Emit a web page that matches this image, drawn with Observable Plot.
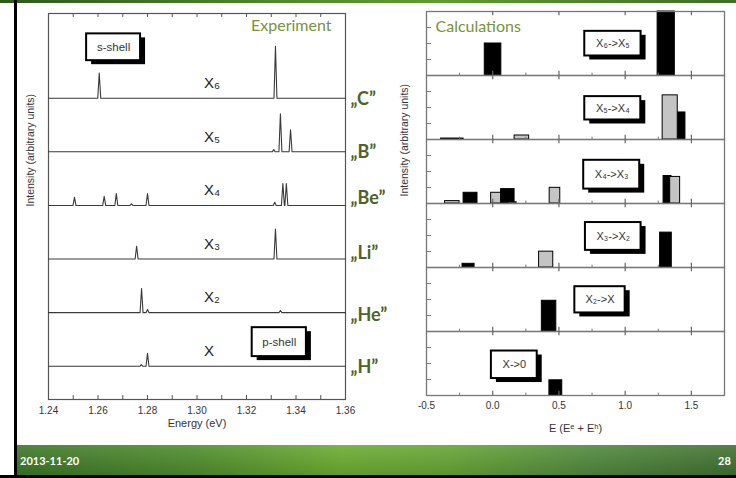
<!DOCTYPE html>
<html>
<head>
<meta charset="utf-8">
<script src="https://cdn.jsdelivr.net/npm/d3@7"></script>
<script src="https://cdn.jsdelivr.net/npm/@observablehq/plot@0.6"></script>
<style>
  body { margin: 0; background: #fff; }
  #slide { position: relative; width: 736px; height: 478px; background: #fff; overflow: hidden; font-family: "Liberation Sans", Arial, sans-serif; }
  #topbar { position: absolute; left: 0; top: 0; width: 736px; height: 3px; background: linear-gradient(90deg, #2c5a1a, #4f8c28 40%, #5e9c2c 60%, #3c6e24); }
  #leftline { position: absolute; left: 14px; top: 0; width: 3px; height: 478px; background: #000; }
  #footer { position: absolute; left: 17px; top: 445px; width: 719px; height: 30px;
    background: linear-gradient(180deg, rgba(255,255,255,0.12), rgba(0,0,0,0.08)), linear-gradient(90deg, #3a7324 0%, #4c8a2a 25%, #69a92d 45%, #63a232 60%, #4d863a 80%, #3e6e2e 100%); }
  #bottomline { position: absolute; left: 0; top: 475px; width: 736px; height: 3px; background: #000; }
  .foot { position: absolute; top: 454px; color: #fff; font-family: Lato, "Open Sans", sans-serif; font-weight: bold; font-size: 11px; }
  #leftplot { position: absolute; left: 0; top: 0; }
  #rightplot { position: absolute; left: 380px; top: 0; }
</style>
</head>
<body>
<div id="slide">
  <div id="topbar"></div>
  <div id="footer"></div>
  <div id="leftline"></div>
  <div id="bottomline"></div>
  <div class="foot" style="left:20px">2013-11-20</div>
  <div class="foot" style="left:718px">28</div>
  <div id="leftplot"></div>
  <div id="rightplot"></div>
</div>
<script>
// ---------------- Experiment (left) ----------------
const traceNames = ["X", "X2", "X3", "X4", "X5", "X6"];          // bottom to top
const traceLabels = ["X", "X₂", "X₃", "X₄", "X₅", "X₆"];
const elementLabels = ["„H”", "„He”", "„Li”", "„Be”", "„B”", "„C”"];

const peakTrace  = ["X6", "X6",
                    "X5", "X5", "X5",
                    "X4", "X4", "X4", "X4", "X4", "X4", "X4", "X4",
                    "X3", "X3",
                    "X2", "X2", "X2",
                    "X", "X"];
const peakEnergy = [1.2605, 1.3317,
                    1.3310, 1.3337, 1.3378,
                    1.2505, 1.2625, 1.2674, 1.2735, 1.2800, 1.3314, 1.3347, 1.3361,
                    1.2756, 1.3317,
                    1.2776, 1.2800, 1.3337,
                    1.2775, 1.2800];
const peakHeight = [0.47, 0.97,
                    0.04, 0.71, 0.41,
                    0.15, 0.17, 0.22, 0.03, 0.22, 0.06, 0.41, 0.41,
                    0.24, 0.56,
                    0.45, 0.06, 0.04,
                    0.03, 0.24];

const energyTicks = [1.24, 1.25, 1.26, 1.27, 1.28, 1.29, 1.30, 1.31, 1.32, 1.33, 1.34, 1.35, 1.36];
const energyLabelTicks = [1.24, 1.26, 1.28, 1.30, 1.32, 1.34, 1.36];
const energyTickLabels = ["1.24", "1.26", "1.28", "1.30", "1.32", "1.34", "1.36"];

const shellLabels = ["s-shell", "p-shell"];

// ---------------- Calculations (right) ----------------
const panels = ["X6->X5", "X5->X4", "X4->X3", "X3->X2", "X2->X", "X->0"];
const panelLabels = ["X₆->X₅", "X₅->X₄", "X₄->X₃", "X₃->X₂", "X₂->X", "X->0"];

const barPanel = ["X6->X5", "X6->X5",
                  "X5->X4", "X5->X4", "X5->X4", "X5->X4",
                  "X4->X3", "X4->X3", "X4->X3", "X4->X3", "X4->X3", "X4->X3", "X4->X3", "X4->X3",
                  "X3->X2", "X3->X2", "X3->X2",
                  "X2->X",
                  "X->0"];
const barStart = [-0.06, 1.245,
                  -0.39, 0.165, 1.35, 1.283,
                  -0.36, -0.22, -0.012, 0.063, 0.12, 0.43, 1.29, 1.34,
                  -0.228, 0.35, 1.264,
                  0.371,
                  0.428];
const barEnd   = [0.065, 1.375,
                  -0.22, 0.275, 1.455, 1.397,
                  -0.25, -0.115, 0.063, 0.165, 0.18, 0.51, 1.35, 1.415,
                  -0.137, 0.457, 1.352,
                  0.48,
                  0.525];
const barHeight = [2.0, 4.0,
                   0.06, 0.25, 1.69, 2.76,
                   0.15, 0.67, 0.67, 0.9, 0.08, 0.98, 1.72, 1.66,
                   0.23, 0.99, 2.18,
                   1.92,
                   0.95];
const barKind = ["dark", "dark",
                 "dark", "light", "dark", "light",
                 "light", "dark", "light", "dark", "light", "light", "dark", "light",
                 "dark", "light", "dark",
                 "dark",
                 "dark"];

const calcTicks = [-0.5, 0.0, 0.5, 1.0, 1.5];
const calcTickLabels = ["-0.5", "0.0", "0.5", "1.0", "1.5"];
const calcMajor = [0.0, 0.5, 1.0, 1.5];
const calcMinor = [-0.25, 0.25, 0.75, 1.25];
const calcYTicks = [1, 2, 3];

// ---------------- annotation anchors (data units) ----------------
const baseOffset = 0.62;       // lowest baseline, in trace-spacing units
const halfWidth = 0.0006;      // half base width of a drawn line
const traceLabelEnergy = 1.3028;
const traceLabelLift = 0.28;
const elementLabelY = [0.6, 1.57, 2.72, 3.75, 4.61, 5.6];
const shellBox = {x1: [1.2554, 1.3223], x2: [1.2772, 1.3442], y1: [6.32, 0.80], y2: [6.82, 1.34]};
const calcBox = {x1: [0.695, 0.695, 0.687, 0.70, 0.62, -0.01],
                 x2: [1.12, 1.118, 1.11, 1.12, 1.0, 0.336],
                 y1: [1.22, 1.22, 0.9, 1.07, 1.16, 1.06],
                 y2: [2.76, 2.68, 2.7, 2.81, 2.8, 2.78]};

// ---------- build left traces ----------
const traceRows = [];
traceNames.forEach((name, i) => {
  const base = baseOffset + i;
  const pk = peakEnergy.map((e, j) => ({e, h: peakHeight[j], t: peakTrace[j]}))
    .filter(p => p.t === name).sort((a, b) => a.e - b.e);
  traceRows.push({trace: name, e: energyTicks[0], y: base});
  pk.forEach(p => {
    traceRows.push({trace: name, e: p.e - halfWidth, y: base});
    traceRows.push({trace: name, e: p.e, y: base + p.h});
    traceRows.push({trace: name, e: p.e + halfWidth, y: base});
  });
  traceRows.push({trace: name, e: energyTicks[energyTicks.length - 1], y: base});
});
const traceLabelRows = traceNames.map((n, i) => ({text: traceLabels[i], y: baseOffset + i + traceLabelLift}));
const elementRows = traceNames.map((n, i) => ({text: elementLabels[i], y: elementLabelY[i]}));
const shellRows = shellLabels.map((t, i) => ({text: t, x1: shellBox.x1[i], x2: shellBox.x2[i], y1: shellBox.y1[i], y2: shellBox.y2[i]}));

const LH = 445, LMT = 13, LMB = 46;
const leftFrameH = LH - LMT - LMB;
const axisFont = "Liberation Sans, Arial, sans-serif";
const slideFont = "Lato, 'Open Sans', sans-serif";

const left = Plot.plot({
  width: 380, height: LH,
  marginLeft: 48, marginRight: 35, marginTop: LMT, marginBottom: LMB,
  x: {domain: [1.24, 1.36]},
  y: {domain: [0, 7.2], axis: null},
  style: {fontFamily: axisFont, fontSize: "10px", color: "#333", background: "transparent", overflow: "visible"},
  marks: [
    Plot.frame({stroke: "#555", strokeWidth: 1.2}),
    Plot.tickX(energyTicks, {x: d => d, insetTop: leftFrameH - 4, stroke: "#555"}),
    Plot.tickX(energyTicks, {x: d => d, insetBottom: leftFrameH - 4, stroke: "#555"}),
    Plot.line(traceRows, {x: "e", y: "y", z: "trace", stroke: "#3a3a3a", strokeWidth: 1.1}),
    Plot.axisX(energyLabelTicks, {tickSize: 0, tickPadding: 7, tickFormat: d => energyTickLabels[energyLabelTicks.indexOf(d)], label: null, fontSize: 10}),
    Plot.text(["Energy (eV)"], {frameAnchor: "bottom", dy: 27, fontSize: 11, fill: "#333"}),
    Plot.text(["Intensity (arbitrary units)"], {frameAnchor: "left", rotate: -90, dx: -18, fontSize: 10.5, fill: "#333"}),
    Plot.text(traceLabelRows, {x: traceLabelEnergy, y: "y", text: "text", textAnchor: "start", fontSize: 15, fill: "#222"}),
    Plot.text(elementRows, {x: 1.36, y: "y", text: "text", textAnchor: "start", dx: 5, fontSize: 18, fontWeight: "bold", fill: "#4f6228", fontFamily: slideFont}),
    Plot.text(["Experiment"], {frameAnchor: "top-right", dx: -14, dy: 6, fontSize: 16, fill: "#77933c", fontFamily: slideFont}),
    Plot.rect(shellRows, {x1: "x1", x2: "x2", y1: "y1", y2: "y2", fill: "#000", dx: 5, dy: 4}),
    Plot.rect(shellRows, {x1: "x1", x2: "x2", y1: "y1", y2: "y2", fill: "#fff", stroke: "#000", strokeWidth: 2}),
    Plot.text(shellRows, {x: d => (d.x1 + d.x2) / 2, y: d => (d.y1 + d.y2) / 2, text: "text", fontSize: 11.5, fill: "#333"})
  ]
});
document.getElementById("leftplot").append(left);

// ---------- right ----------
const bars = barPanel.map((p, i) => ({panel: p, x1: barStart[i], x2: barEnd[i], h: barHeight[i], kind: barKind[i]}));
const boxRows = panels.map((p, i) => ({panel: p, text: panelLabels[i], x1: calcBox.x1[i], x2: calcBox.x2[i], y1: calcBox.y1[i], y2: calcBox.y2[i]}));

const RH = 445, RMT = 9, RMB = 48, RML = 46, RMR = 12, RW = 356;
const facetH = (RH - RMT - RMB) / panels.length;
const frameW = RW - RML - RMR;

const right = Plot.plot({
  width: RW, height: RH,
  marginLeft: RML, marginRight: RMR, marginTop: RMT, marginBottom: RMB,
  x: {domain: [-0.5, 1.75]},
  y: {domain: [0, 4], axis: null},
  fy: {domain: panels, padding: 0, axis: null},
  style: {fontFamily: axisFont, fontSize: "10px", color: "#333", background: "transparent", overflow: "visible"},
  marks: [
    Plot.rect(bars.filter(d => d.kind === "dark"), {fy: "panel", x1: "x1", x2: "x2", y1: d => 0, y2: "h", fill: "#000", stroke: "#000", strokeWidth: 1}),
    Plot.rect(bars.filter(d => d.kind === "light"), {fy: "panel", x1: "x1", x2: "x2", y1: d => 0, y2: "h", fill: "#c4c4c4", stroke: "#000", strokeWidth: 1}),
    Plot.frame({stroke: "#777", strokeWidth: 1.3}),
    Plot.tickX(calcMajor, {x: d => d, insetTop: facetH - 5, stroke: "#666", strokeWidth: 1.2}),
    Plot.tickX(calcMajor, {x: d => d, insetBottom: facetH - 5, stroke: "#666", strokeWidth: 1.2}),
    Plot.tickX(calcMinor, {x: d => d, insetTop: facetH - 3, stroke: "#777"}),
    Plot.tickY(calcYTicks, {y: d => d, insetRight: frameW - 5, stroke: "#777"}),
    Plot.axisX(calcTicks, {tickSize: 0, tickPadding: 6, tickFormat: d => calcTickLabels[calcTicks.indexOf(d)], label: null, fontSize: 10}),
    Plot.text(["E (Eᵉ + Eʰ)"], {fy: ["X->0"], frameAnchor: "bottom", dy: 36, fontSize: 11, fill: "#333"}),
    Plot.text(["Intensity (arbitrary units)"], {fy: ["X4->X3"], frameAnchor: "bottom-left", rotate: -90, dx: -19, dy: -7, fontSize: 10.5, fill: "#333"}),
    Plot.text(["Calculations"], {fy: ["X6->X5"], frameAnchor: "top-left", dx: 9, dy: 9, fontSize: 16, fill: "#77933c", fontFamily: slideFont}),
    Plot.rect(boxRows, {fy: "panel", x1: "x1", x2: "x2", y1: "y1", y2: "y2", fill: "#000", dx: 5, dy: 4}),
    Plot.rect(boxRows, {fy: "panel", x1: "x1", x2: "x2", y1: "y1", y2: "y2", fill: "#fff", stroke: "#000", strokeWidth: 2}),
    Plot.text(boxRows, {fy: "panel", x: d => (d.x1 + d.x2) / 2, y: d => (d.y1 + d.y2) / 2, text: "text", fontSize: 11, fill: "#333"})
  ]
});
document.getElementById("rightplot").append(right);
</script>
</body>
</html>
